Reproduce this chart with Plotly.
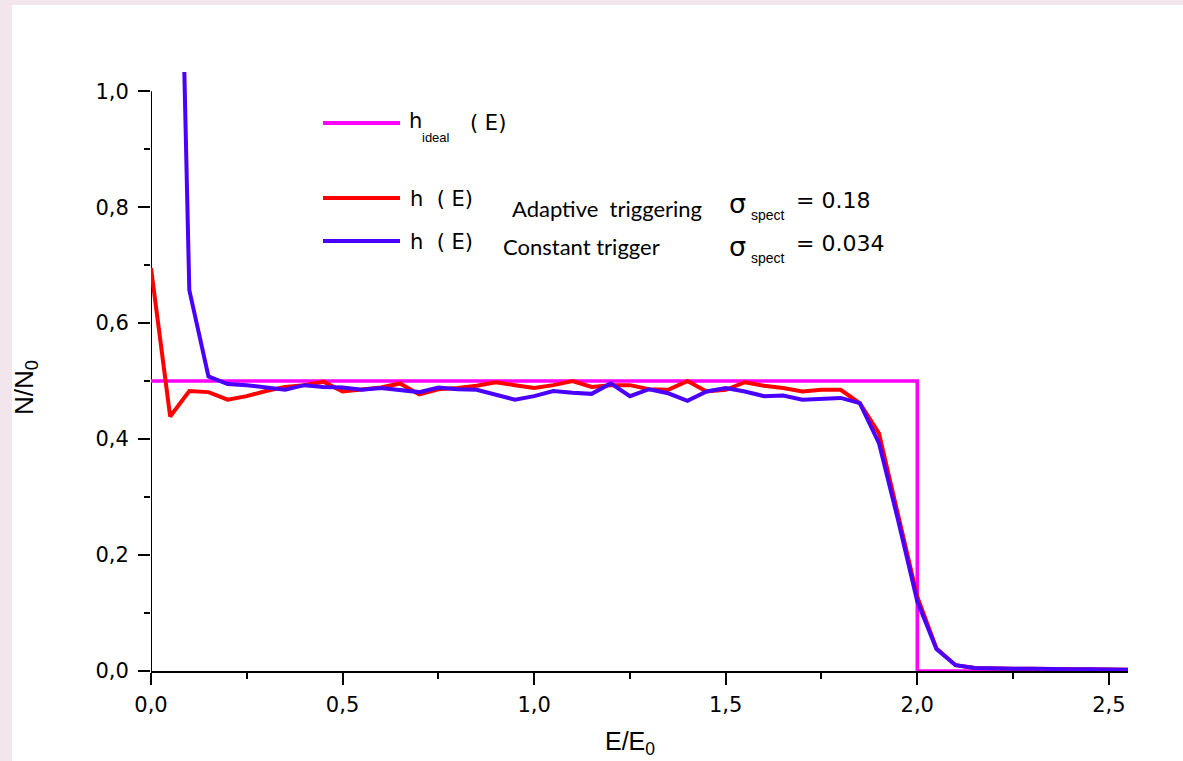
import plotly.graph_objects as go

# ---------------- data ----------------
x_ideal = [0.0, 2.0, 2.0, 2.55]
y_ideal = [0.5, 0.5, 0.0, 0.0]

x_red = [0.00, 0.05, 0.10, 0.15, 0.20, 0.25, 0.30, 0.35, 0.40, 0.45,
         0.50, 0.55, 0.60, 0.65, 0.70, 0.75, 0.80, 0.85, 0.90, 0.95,
         1.00, 1.05, 1.10, 1.15, 1.20, 1.25, 1.30, 1.35, 1.40, 1.45,
         1.50, 1.55, 1.60, 1.65, 1.70, 1.75, 1.80, 1.85, 1.90, 1.95,
         2.00, 2.05, 2.10, 2.15, 2.20, 2.25, 2.30, 2.35, 2.40, 2.45,
         2.50, 2.55]
y_red = [0.695, 0.439, 0.483, 0.481, 0.468, 0.474, 0.483, 0.490, 0.493, 0.499,
         0.482, 0.485, 0.489, 0.496, 0.477, 0.486, 0.488, 0.492, 0.498, 0.493,
         0.488, 0.493, 0.500, 0.490, 0.493, 0.493, 0.486, 0.485, 0.500, 0.482,
         0.485, 0.498, 0.492, 0.488, 0.482, 0.485, 0.485, 0.462, 0.410, 0.269,
         0.128, 0.039, 0.010, 0.005, 0.004, 0.004, 0.004, 0.003, 0.003, 0.003,
         0.003, 0.002]

x_blue = [0.087, 0.10, 0.15, 0.20, 0.25, 0.30, 0.35, 0.40, 0.45,
          0.50, 0.55, 0.60, 0.65, 0.70, 0.75, 0.80, 0.85, 0.90, 0.95,
          1.00, 1.05, 1.10, 1.15, 1.20, 1.25, 1.30, 1.35, 1.40, 1.45,
          1.50, 1.55, 1.60, 1.65, 1.70, 1.75, 1.80, 1.85, 1.90, 1.95,
          2.00, 2.05, 2.10, 2.15, 2.20, 2.25, 2.30, 2.35, 2.40, 2.45,
          2.50, 2.55]
y_blue = [1.033, 0.657, 0.508, 0.495, 0.493, 0.489, 0.485, 0.493, 0.490,
          0.489, 0.485, 0.488, 0.485, 0.481, 0.489, 0.486, 0.485, 0.477, 0.468,
          0.474, 0.483, 0.480, 0.478, 0.496, 0.474, 0.486, 0.479, 0.466, 0.482,
          0.488, 0.482, 0.474, 0.475, 0.468, 0.469, 0.471, 0.462, 0.393, 0.260,
          0.120, 0.038, 0.010, 0.005, 0.004, 0.004, 0.004, 0.003, 0.003, 0.003,
          0.003, 0.002]

x_tickvals = [0.0, 0.5, 1.0, 1.5, 2.0, 2.5]
x_ticktext = ["0,0", "0,5", "1,0", "1,5", "2,0", "2,5"]
y_tickvals = [0.0, 0.2, 0.4, 0.6, 0.8, 1.0]
y_ticktext = ["0,0", "0,2", "0,4", "0,6", "0,8", "1,0"]

# ---------------- layout geometry ----------------
W, H = 1183, 761
L, R, T, B = 151, 1128, 68, 671
PW, PH = R - L, B - T


def px(x):
    return (x - L) / PW


def py(y):
    return (B - y) / PH


MAGENTA = "#ff00ff"
RED = "#ff0000"
BLUE = "#4a00ff"
SANS = "DejaVu Sans"
ARIAL = "Liberation Sans"
COND = "Lato"

fig = go.Figure()
fig.add_trace(go.Scatter(x=x_ideal, y=y_ideal, mode="lines",
                         line=dict(color=MAGENTA, width=3.5), showlegend=False))
fig.add_trace(go.Scatter(x=x_red, y=y_red, mode="lines",
                         line=dict(color=RED, width=4), showlegend=False))
fig.add_trace(go.Scatter(x=x_blue, y=y_blue, mode="lines",
                         line=dict(color=BLUE, width=4), showlegend=False))

shapes = [
    # white panel on pink page
    dict(type="rect", xref="paper", yref="paper", x0=px(12), x1=px(1190),
         y0=py(770), y1=py(5), fillcolor="white", line=dict(width=0), layer="below"),
    # y axis line (stops at 1.0)
    dict(type="line", xref="x", yref="y", x0=0, x1=0, y0=0, y1=1.0,
         line=dict(color="black", width=2), layer="below"),
    # legend lines
    dict(type="line", xref="paper", yref="paper", x0=px(323), x1=px(400),
         y0=py(123), y1=py(123), line=dict(color=MAGENTA, width=4)),
    dict(type="line", xref="paper", yref="paper", x0=px(323), x1=px(400),
         y0=py(198), y1=py(198), line=dict(color=RED, width=4)),
    dict(type="line", xref="paper", yref="paper", x0=px(323), x1=px(400),
         y0=py(241), y1=py(241), line=dict(color=BLUE, width=4)),
]


def txt(x, y, s, family, size):
    return dict(x=px(x), y=py(y), xref="paper", yref="paper", text=s,
                xanchor="left", yanchor="middle", showarrow=False,
                font=dict(family=family, size=size, color="black"))


annotations = [
    txt(407, 121, "h", SANS, 21),
    txt(420, 137, "ideal", ARIAL, 13),
    txt(468, 123, "( E)", SANS, 21),
    txt(408, 199, "h  ( E)", SANS, 21),
    txt(510, 208, "Adaptive  triggering", COND, 22),
    txt(727, 203, "σ", SANS, 27),
    txt(749, 215, "spect", ARIAL, 14),
    txt(794, 200, "= 0.18", SANS, 22),
    txt(408, 242, "h  ( E)", SANS, 21),
    txt(501, 246, "Constant trigger", COND, 22),
    txt(727, 246, "σ", SANS, 27),
    txt(749, 258, "spect", ARIAL, 14),
    txt(794, 243, "= 0.034", SANS, 22),
    dict(x=px(25), y=py(388), xref="paper", yref="paper", showarrow=False,
         text="N/N<sub>0</sub>", textangle=-90, xanchor="center", yanchor="middle",
         font=dict(family=ARIAL, size=26, color="black")),
    dict(x=px(630), y=py(743), xref="paper", yref="paper", showarrow=False,
         text="E/E<sub>0</sub>", xanchor="center", yanchor="middle",
         font=dict(family=ARIAL, size=25, color="black")),
]

fig.update_layout(
    width=W, height=H,
    margin=dict(l=L, r=W - R, t=T, b=H - B, pad=0),
    paper_bgcolor="#f3e5ec",
    plot_bgcolor="rgba(0,0,0,0)",
    shapes=shapes,
    annotations=annotations,
    showlegend=False,
    xaxis=dict(range=[0, 2.55], showgrid=False, zeroline=False,
               showline=True, linecolor="black", linewidth=2,
               layer="below traces",
               ticks="outside", ticklen=12, tickwidth=2, tickcolor="black",
               tickvals=x_tickvals, ticktext=x_ticktext, ticklabelstandoff=2,
               tickfont=dict(family=SANS, size=21, color="black"),
               minor=dict(dtick=0.25, tick0=0, ticks="outside", ticklen=6,
                          tickwidth=2, tickcolor="black", showgrid=False)),
    yaxis=dict(range=[0, 1.04], showgrid=False, zeroline=False,
               showline=False, layer="below traces",
               ticks="outside", ticklen=12, tickwidth=2, tickcolor="black",
               tickvals=y_tickvals, ticktext=y_ticktext, ticklabelstandoff=5,
               tickfont=dict(family=SANS, size=21, color="black"),
               minor=dict(dtick=0.1, tick0=0, ticks="outside", ticklen=6,
                          tickwidth=2, tickcolor="black", showgrid=False)),
)

fig.write_html("out.html")
